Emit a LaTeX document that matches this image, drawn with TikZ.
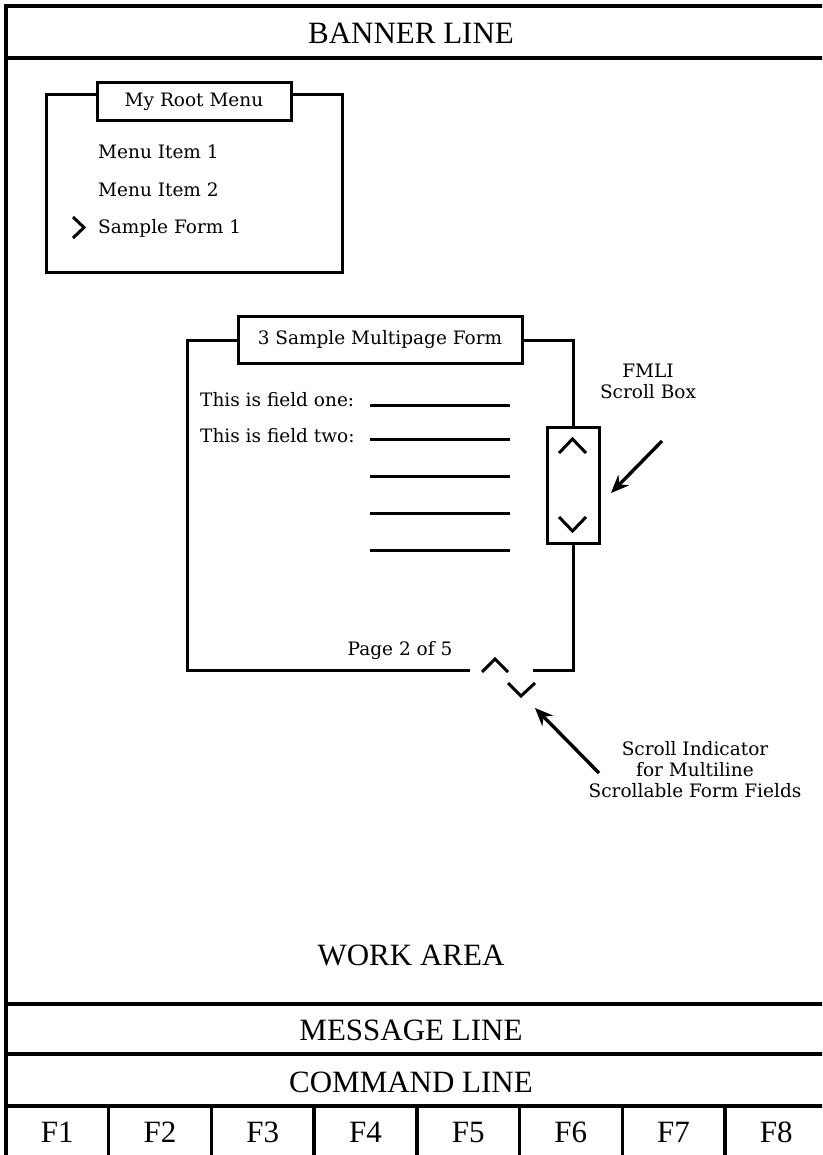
\documentclass[tikz,border=0pt]{standalone}
\usepackage{fontspec}
\setmainfont{DejaVu Serif}
\newfontfamily\capsfont{Liberation Serif}
\usetikzlibrary{arrows.meta}
\begin{document}
\begin{tikzpicture}[x=1pt,y=-1pt,
  frame/.style={line width=3.4pt},
  rule/.style={line width=3pt},
  chev/.style={line width=3pt},
  body/.style={font=\fontsize{18.5}{22}\selectfont, inner sep=0pt},
  caps/.style={font=\capsfont\fontsize{31}{34}\selectfont, inner sep=0pt},
  tab/.style={draw, fill=white, line width=3pt, body, inner sep=0pt},
  pointer/.style={line width=3.4pt, -{Stealth[length=18pt,width=15pt]}},
  label/.style={align=center, inner sep=0pt, font=\fontsize{18.5}{21}\selectfont},
]
\useasboundingbox (0,0) rectangle (822,1155);
\clip (0,0) rectangle (822,1155);

% screen frame and horizontal bands
\draw[frame] (840,6) -- (6,6) -- (6,1170);
\foreach \y in {58,1004,1054,1106}
  \draw[frame] (6,\y) -- (840,\y);
\node[caps] (banner) at (411,33) {BANNER LINE};
\node[caps] (work) at (411,955) {WORK AREA};
\node[caps] (message) at (411,1030) {MESSAGE LINE};
\node[caps] (command) at (411,1082) {COMMAND LINE};

% function keys
\foreach \i in {1,...,7}
  \draw[frame] ({6+102.7*\i},1106) -- ({6+102.7*\i},1170);
\foreach \i in {1,...,8}
  \node[caps] (F\i) at ({6+102.7*(\i-0.5)},1132) {F\i};

% root menu
\draw[rule] (46,95) rectangle (342,273);
\node[tab, minimum width=194pt, minimum height=38pt] (menutitle) at (194,102) {My Root Menu};
\node[body, anchor=west] (item1) at (98,152) {Menu Item 1};
\node[body, anchor=west] (item2) at (98,190) {Menu Item 2};
\node[body, anchor=west] (item3) at (98,228) {Sample Form 1};
\draw[chev] (73,217) -- (84,227.5) -- (73,238);

% multipage form
\draw[rule] (470,670) -- (187,670) -- (187,340) -- (573,340) -- (573,670) -- (533,670);
\node[tab, minimum width=284pt, minimum height=47pt] (formtitle) at (380,340) {3 Sample Multipage Form};
\node[body, anchor=west] (field1) at (200,400) {This is field one:};
\node[body, anchor=west] (field2) at (200,436) {This is field two:};
\foreach \y in {405,439,476,513,550}
  \draw[rule] (370,\y) -- (510,\y);
\node[body] (page) at (400,651) {Page 2 of 5};
\draw[chev] (482,672) -- (495,659) -- (508,672);
\draw[chev] (508,683) -- (521,696) -- (535,683);

% scroll box on the form's right edge
\draw[rule, fill=white] (547,427) rectangle (599,543);
\draw[chev] (559,453) -- (572.5,439) -- (586,453);
\draw[chev] (559,517) -- (572.5,531) -- (586,517);

% callouts
\node[label] (fmli) at (648,381) {FMLI\\Scroll Box};
\coordinate (fmlitail) at (662,441);
\coordinate (fmlitip) at (611,493);
\draw[pointer] (fmlitail) -- (fmlitip);

\node[label] (indicator) at (695,770) {Scroll Indicator\\for Multiline\\Scrollable Form Fields};
\coordinate (indtail) at (599,773);
\coordinate (indtip) at (535,708);
\draw[pointer] (indtail) -- (indtip);
\end{tikzpicture}
\end{document}
